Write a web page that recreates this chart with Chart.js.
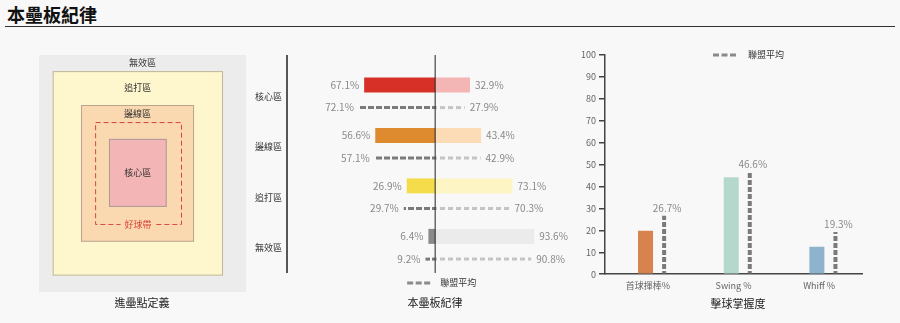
<!DOCTYPE html>
<html lang="zh-Hant">
<head>
<meta charset="utf-8">
<title>本壘板紀律</title>
<script src="https://cdn.jsdelivr.net/npm/chart.js@4.4.1/dist/chart.umd.min.js"></script>
<style>
html, body { margin: 0; padding: 0; background: #f8f8f8; }
body { position: relative; width: 900px; height: 323px; overflow: hidden;
  font-family: "Noto Sans CJK TC", "Noto Sans", sans-serif; color: #222; }
.head { position: absolute; left: 7px; top: 4px; margin: 0; font-size: 18px; line-height: 20px; font-weight: 700; color: #111; }
.rule { position: absolute; left: 5px; width: 890px; top: 26px; border-top: 1.5px solid #333; }
.sub { position: absolute; width: 200px; text-align: center; font-size: 11px; line-height: 14px; color: #222; }
canvas { position: absolute; }
</style>
</head>
<body>
<h1 class="head">本壘板紀律</h1>
<div class="rule"></div>
<canvas id="zoneChart" width="225" height="250" style="left:30px;top:50px"></canvas>
<canvas id="disciplineChart" width="345" height="260" style="left:240px;top:40px"></canvas>
<canvas id="contactChart" width="325" height="260" style="left:575px;top:40px"></canvas>
<div class="sub" style="left:42px;top:295px">進壘點定義</div>
<div class="sub" style="left:335px;top:295px">本壘板紀律</div>
<div class="sub" style="left:638px;top:296px">擊球掌握度</div>
<script>
const FONT = '"Noto Sans CJK TC", "Noto Sans", sans-serif';
Chart.defaults.font.family = FONT;
Chart.defaults.animation = false;

// 進壘點定義 (box edges, 0-100 across the panel)
const zoneNames = ['無效區', '追打區', '邊線區', '核心區'];
const zoneLeft = [0, 6.6, 20.3, 33.8];
const zoneRight = [100, 88.9, 74.9, 61.7];
const zoneTop = [0, 6.8, 21.1, 35.4];
const zoneBottom = [100, 93.1, 78.8, 64.1];
const strikeZone = [27.1, 68.6, 28.3, 71.3]; // left, right, top, bottom

// 本壘板紀律
const zoneRows = ['核心區', '邊線區', '追打區', '無效區'];
const swingPct = [67.1, 56.6, 26.9, 6.4];
const takePct = [32.9, 43.4, 73.1, 93.6];
const lgSwingPct = [72.1, 57.1, 29.7, 9.2];
const lgTakePct = [27.9, 42.9, 70.3, 90.8];

// 擊球掌握度
const contactLabels = ['首球揮棒%', 'Swing %', 'Whiff %'];
const playerPct = [19.8, 44.2, 12.5];
const leaguePct = [26.7, 46.6, 19.3];

const zoneFill = ['#ececec', '#fef6cd', '#fad8b0', '#f4b5b6'];
const zoneEdge = [null, '#bdb59c', '#b9a58e', '#ab9b98'];
const swingColors = ['#d73027', '#de8a2e', '#f5dc4b', '#8a8a8a'];
const takeColors = ['#f4b6b4', '#fbdcb6', '#fdf6c4', '#ebebeb'];
const contactColors = ['#d6834f', '#b4d8cb', '#8eb3cc'];

function dashH(color, dash, period, thick) {
  const c = document.createElement('canvas');
  c.width = period; c.height = thick;
  const g = c.getContext('2d');
  g.fillStyle = color; g.fillRect(0, 0, dash, thick);
  return g.createPattern(c, 'repeat');
}
function dashV(color, dash, period, thick) {
  const c = document.createElement('canvas');
  c.width = thick; c.height = period;
  const g = c.getContext('2d');
  g.fillStyle = color; g.fillRect(0, 0, thick, dash);
  return g.createPattern(c, 'repeat');
}
function legendKey(ctx, x, y, gap, text) {
  ctx.save();
  ctx.fillStyle = '#8a8a8a';
  for (let k = 0; k < 3; k++) ctx.fillRect(x + k * 8.5, y - 1.5, 6, 3);
  ctx.fillStyle = '#333';
  ctx.font = '9px ' + FONT;
  ctx.textAlign = 'left';
  ctx.textBaseline = 'middle';
  ctx.fillText(text, x + 23 + gap, y);
  ctx.restore();
}

// left panel: nested zone boxes
const zonePlugin = {
  id: 'zones',
  beforeDatasetsDraw(chart) {
    const { ctx, scales: { x, y } } = chart;
    ctx.save();
    zoneNames.forEach((name, i) => {
      const l = x.getPixelForValue(zoneLeft[i]), r = x.getPixelForValue(zoneRight[i]);
      const t = y.getPixelForValue(zoneTop[i]), b = y.getPixelForValue(zoneBottom[i]);
      ctx.fillStyle = zoneFill[i];
      ctx.fillRect(l, t, r - l, b - t);
      if (zoneEdge[i]) {
        ctx.strokeStyle = zoneEdge[i];
        ctx.lineWidth = 1;
        ctx.strokeRect(l + 0.5, t + 0.5, r - l - 1, b - t - 1);
      }
    });
    const sl = x.getPixelForValue(strikeZone[0]), sr = x.getPixelForValue(strikeZone[1]);
    const st = y.getPixelForValue(strikeZone[2]), sb = y.getPixelForValue(strikeZone[3]);
    ctx.strokeStyle = '#d9463b';
    ctx.setLineDash([5, 3]);
    ctx.strokeRect(sl + 0.5, st + 0.5, sr - sl, sb - st);
    ctx.setLineDash([]);

    ctx.font = '9px ' + FONT;
    ctx.textAlign = 'center';
    ctx.textBaseline = 'middle';
    ctx.fillStyle = '#333';
    const nextTop = [zoneTop[1], zoneTop[2], strikeZone[2]];
    zoneNames.forEach((name, i) => {
      const cx = (x.getPixelForValue(zoneLeft[i]) + x.getPixelForValue(zoneRight[i])) / 2;
      const v = i < 3 ? (zoneTop[i] + nextTop[i]) / 2 : (zoneTop[i] + zoneBottom[i]) / 2;
      ctx.fillText(name, cx, y.getPixelForValue(v));
    });
    const scx = (sl + sr) / 2;
    const w = ctx.measureText('好球帶').width + 8;
    ctx.fillStyle = zoneFill[2];
    ctx.fillRect(scx - w / 2, sb - 5, w, 10);
    ctx.fillStyle = '#d9463b';
    ctx.fillText('好球帶', scx, sb + 0.5);
    ctx.restore();
  }
};

new Chart(document.getElementById('zoneChart'), {
  type: 'scatter',
  data: { datasets: [] },
  options: {
    responsive: false,
    layout: { padding: { left: 9, right: 9, top: 5, bottom: 8 } },
    scales: {
      x: { type: 'linear', min: 0, max: 100, display: false },
      y: { type: 'linear', min: 0, max: 100, reverse: true, display: false }
    },
    plugins: { legend: { display: false }, tooltip: { enabled: false } }
  },
  plugins: [zonePlugin]
});

// middle panel: swing / take split per zone
const disciplinePlugin = {
  id: 'discipline',
  afterDatasetsDraw(chart) {
    const { ctx, chartArea: a, scales: { x } } = chart;
    const x0 = x.getPixelForValue(0);
    const top = a.top - 16;
    ctx.save();
    ctx.strokeStyle = '#222';
    ctx.lineWidth = 1.5;
    ctx.beginPath(); ctx.moveTo(a.left, top); ctx.lineTo(a.left, a.bottom); ctx.stroke();
    ctx.lineWidth = 1;
    ctx.beginPath(); ctx.moveTo(x0, top); ctx.lineTo(x0, a.bottom); ctx.stroke();
    ctx.font = '10px ' + FONT;
    ctx.fillStyle = '#888';
    ctx.textBaseline = 'middle';
    [swingPct, takePct, lgSwingPct, lgTakePct].forEach((vals, d) => {
      const left = d % 2 === 0;
      ctx.textAlign = left ? 'right' : 'left';
      chart.getDatasetMeta(d).data.forEach((bar, i) => {
        ctx.fillText(vals[i].toFixed(1) + '%', bar.x + (left ? -5 : 5), bar.y);
      });
    });
    ctx.restore();
    legendKey(ctx, x0 - 28, a.bottom + 10, 10, '聯盟平均');
  }
};

new Chart(document.getElementById('disciplineChart'), {
  type: 'bar',
  data: {
    labels: zoneRows,
    datasets: [
      { label: '揮棒', data: swingPct.map(v => -v), backgroundColor: swingColors, stack: 'player',
        categoryPercentage: 0.9, barPercentage: 1, maxBarThickness: 15 },
      { label: '未揮棒', data: takePct, backgroundColor: takeColors, stack: 'player',
        categoryPercentage: 0.9, barPercentage: 1, maxBarThickness: 15 },
      { label: '聯盟平均', data: lgSwingPct.map(v => -v), backgroundColor: dashH('#7a7a7a', 6, 8, 3), stack: 'league',
        categoryPercentage: 0.9, barPercentage: 1, maxBarThickness: 3 },
      { label: '聯盟平均', data: lgTakePct, backgroundColor: dashH('#c4c4c4', 5, 8, 3), stack: 'league',
        categoryPercentage: 0.9, barPercentage: 1, maxBarThickness: 3 }
    ]
  },
  options: {
    indexAxis: 'y',
    responsive: false,
    layout: { padding: { top: 31, right: 44, bottom: 27, left: 0 } },
    scales: {
      x: { type: 'linear', min: -140, max: 100, stacked: true, display: false },
      y: {
        grid: { display: false, drawTicks: false },
        border: { display: false },
        ticks: { color: '#333', font: { size: 9 }, padding: 5 },
        afterFit: s => { s.width = 47; }
      }
    },
    plugins: { legend: { display: false }, tooltip: { enabled: false } }
  },
  plugins: [disciplinePlugin]
});

// right panel: player vs league
const contactPlugin = {
  id: 'contact',
  afterDatasetsDraw(chart) {
    const { ctx, chartArea: a } = chart;
    ctx.save();
    ctx.font = '10px ' + FONT;
    ctx.fillStyle = '#888';
    ctx.textAlign = 'center';
    ctx.textBaseline = 'alphabetic';
    chart.getDatasetMeta(1).data.forEach((bar, i) => {
      ctx.fillText(leaguePct[i].toFixed(1) + '%', bar.x + 3, bar.y - 4);
    });
    ctx.restore();
    legendKey(ctx, a.left + 108, a.top, 12, '聯盟平均');
  }
};

new Chart(document.getElementById('contactChart'), {
  type: 'bar',
  data: {
    labels: contactLabels,
    datasets: [
      { label: '球員', data: playerPct, backgroundColor: contactColors,
        categoryPercentage: 0.107, barPercentage: 10, maxBarThickness: 15 },
      { label: '聯盟平均', data: leaguePct, backgroundColor: dashV('#7a7a7a', 5, 7, 4),
        categoryPercentage: 0.76, barPercentage: 1, maxBarThickness: 4 }
    ]
  },
  options: {
    responsive: false,
    layout: { padding: { top: 15, right: 38, bottom: 3, left: 0 } },
    scales: {
      x: {
        stacked: false,
        grid: { display: false, drawTicks: false },
        border: { color: '#444', width: 1.5 },
        ticks: { color: '#666', font: { size: 9 }, padding: 6 }
      },
      y: {
        stacked: false,
        min: 0, max: 100,
        ticks: { stepSize: 10, color: '#666', font: { size: 9 }, padding: 3 },
        grid: { drawOnChartArea: false, color: '#444', lineWidth: 1.5, tickLength: 6 },
        border: { color: '#444', width: 1.5 },
        afterFit: s => { s.width = 30; }
      }
    },
    plugins: { legend: { display: false }, tooltip: { enabled: false } }
  },
  plugins: [contactPlugin]
});
</script>
</body>
</html>
